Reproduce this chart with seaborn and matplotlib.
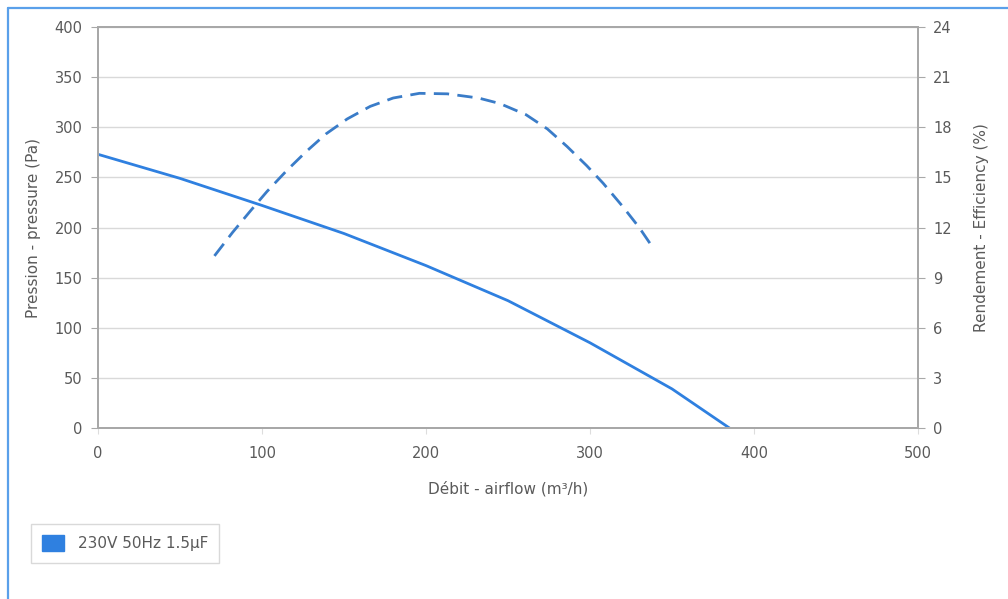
import numpy as np
import matplotlib
matplotlib.use("Agg")
import matplotlib.pyplot as plt
import seaborn as sns
from matplotlib.lines import Line2D
from matplotlib.patches import Patch

# valeurs
debit_pression = [0, 50, 100, 150, 200, 250, 300, 350, 385]
pression = [273, 249, 222, 194, 162, 127, 85, 39, 0]

debit_rendement = [71, 82, 93, 103, 115, 127, 139, 152, 166, 180, 196, 213,
                   232, 245, 261, 274, 286, 298, 308, 320, 330, 339]
rendement = [10.3, 11.7, 13.0, 14.15, 15.4, 16.55, 17.6, 18.5, 19.25, 19.75,
             20.03, 20.0, 19.75, 19.42, 18.75, 17.9, 16.85, 15.7, 14.65,
             13.25, 12.0, 10.7]

pression_ticks = list(range(0, 401, 50))
rendement_ticks = list(range(0, 25, 3))
debit_ticks = list(range(0, 501, 100))

serie_label = "230V 50Hz 1.5µF"
COULEUR = "#2f80e0"
COULEUR_RENDEMENT = "#3a7cc8"
GRIS_TEXTE = "#5a5a5a"
GRIS_AXE = "#a8a8a8"

sns.set_style("white")
plt.rcParams["font.family"] = ["DejaVu Sans"]

fig = plt.figure(figsize=(10.08, 5.99), dpi=100)
ax = fig.add_axes([98 / 1008, 1 - 428 / 599, 820 / 1008, 401 / 599])
ax2 = ax.twinx()

sns.lineplot(x=debit_pression, y=pression, ax=ax, color=COULEUR,
             linewidth=2.0, sort=False, errorbar=None)
sns.lineplot(x=debit_rendement, y=rendement, ax=ax2, color=COULEUR_RENDEMENT,
             linewidth=2.0, sort=False, errorbar=None,
             linestyle=(0, (5.5, 3)))

ax.set_xlim(0, 500)
ax.set_ylim(0, 400)
ax2.set_ylim(0, 24)
ax.set_xticks(debit_ticks)
ax.set_yticks(pression_ticks)
ax2.set_yticks(rendement_ticks)

ax.grid(axis="y", color="#d9d9d9", linewidth=1.0)
ax.grid(axis="x", visible=False)
ax2.grid(False)

for a in (ax, ax2):
    for s in a.spines.values():
        s.set_color(GRIS_AXE)
        s.set_linewidth(1.4)

ax.tick_params(axis="y", length=5, width=0.8, color=GRIS_AXE, pad=6,
               labelsize=10.5, labelcolor=GRIS_TEXTE, left=True)
ax.tick_params(axis="x", length=4, width=0.8, color="#dddddd", pad=9,
               labelsize=10.5, labelcolor=GRIS_TEXTE, bottom=True)
ax2.tick_params(axis="y", length=5, width=0.8, color=GRIS_AXE, pad=6,
                labelsize=10.5, labelcolor=GRIS_TEXTE, right=True)

ax.set_xlabel("Débit - airflow (m³/h)", fontsize=11, color=GRIS_TEXTE, labelpad=14)
ax.set_ylabel("Pression - pressure (Pa)", fontsize=11, color=GRIS_TEXTE, labelpad=10)
ax2.set_ylabel("Rendement - Efficiency (%)", fontsize=11, color=GRIS_TEXTE, labelpad=16)

handles = [Patch(facecolor=COULEUR, edgecolor=COULEUR)]
leg = fig.legend(handles, [serie_label], loc="upper left",
                 bbox_to_anchor=(31 / 1008, 1 - 524 / 599),
                 frameon=True, fancybox=False, fontsize=11,
                 handlelength=1.4, handleheight=1.2, borderpad=0.75,
                 handletextpad=0.9, borderaxespad=0)
leg.get_frame().set_edgecolor("#d0d0d0")
leg.get_frame().set_linewidth(1.0)
for t in leg.get_texts():
    t.set_color(GRIS_TEXTE)

# cadre bleu (gauche et haut)
x0 = 7.5 / 1008
y0 = 1 - 7.5 / 599
fig.add_artist(Line2D([x0, x0], [0, y0], transform=fig.transFigure,
                      color="#5aa0ea", linewidth=1.6))
fig.add_artist(Line2D([x0, 1], [y0, y0], transform=fig.transFigure,
                      color="#5aa0ea", linewidth=1.6))

fig.savefig("out.png", dpi=100)
